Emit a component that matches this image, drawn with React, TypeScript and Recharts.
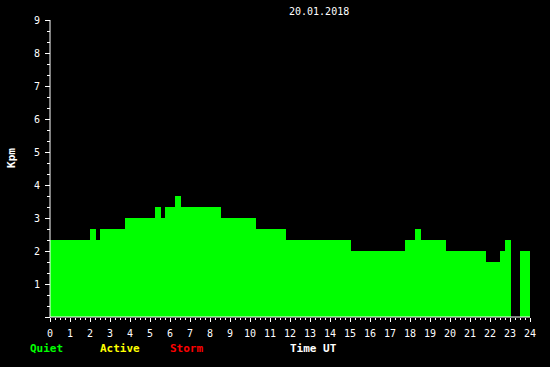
import React from 'react'
import { AreaChart, Area, XAxis, YAxis } from 'recharts'

// hours (UT) where the Kpm value changes, and the value that starts there
const hours = [0, 2.0, 2.3, 2.5, 3.75, 5.25, 5.55, 5.75, 6.25, 6.55, 8.55, 10.3, 11.8, 15.05, 17.75, 18.25, 18.55, 19.8, 21.8, 22.5, 22.75, 23.05, 23.05, 23.5, 24]
const kpm = [2.33, 2.67, 2.33, 2.67, 3, 3.33, 3, 3.33, 3.67, 3.33, 3, 2.67, 2.33, 2, 2.33, 2.67, 2.33, 2, 1.67, 2, 2.33, 2.33, null, 2, 2]

const title = '20.01.2018'
const legendItems = [
  { label: 'Quiet', color: '#00ff00', x: 30 },
  { label: 'Active', color: '#ffff00', x: 100 },
  { label: 'Storm', color: '#ff0000', x: 170 },
]
const xTitle = 'Time UT'
const yTitle = 'Kpm'

const hourTicks = Array.from({ length: 97 }, (_, i) => i / 4)
const kpmTicks = Array.from({ length: 28 }, (_, i) => i / 3)

const data = hours.map((t, i) => ({ t, kpm: kpm[i] }))

const FONT = '"DejaVu Sans Mono", monospace'

const isWhole = (v: number) => Math.abs(v - Math.round(v)) < 1e-6

const XTick = (props: any) => {
  const { x, y, payload } = props
  const major = isWhole(payload.value)
  return (
    <g>
      <line x1={x} x2={x} y1={y + 1} y2={y + (major ? 5 : 3)} stroke="#fff" strokeWidth={1} shapeRendering="crispEdges" />
      {major && (
        <text x={x} y={y + 20} textAnchor="middle" fill="#fff" fontSize={10} fontFamily={FONT}>
          {Math.round(payload.value)}
        </text>
      )}
    </g>
  )
}

const YTick = (props: any) => {
  const { x, y, payload } = props
  const major = isWhole(payload.value)
  const v = Math.round(payload.value)
  return (
    <g>
      <line x1={x - (major ? 5 : 3)} x2={x} y1={y} y2={y} stroke="#fff" strokeWidth={1} shapeRendering="crispEdges" />
      {major && v > 0 && (
        <text x={x - 10} y={y + 4} textAnchor="end" fill="#fff" fontSize={10} fontFamily={FONT}>
          {v}
        </text>
      )}
    </g>
  )
}

export default function App() {
  return (
    <div style={{ position: 'fixed', left: 0, top: 0, width: 550, height: 367, background: '#000', fontFamily: FONT }}>
      <AreaChart width={550} height={367} data={data} margin={{ top: 20, right: 20, bottom: 20, left: 0 }}>
        <XAxis
          type="number"
          dataKey="t"
          domain={[0, 24]}
          ticks={hourTicks}
          interval={0}
          height={30}
          tickSize={0}
          tickMargin={0}
          tickLine={false}
          axisLine={{ stroke: '#fff' }}
          tick={<XTick />}
        />
        <YAxis
          type="number"
          domain={[0, 9]}
          ticks={kpmTicks}
          interval={0}
          width={50}
          tickSize={0}
          tickMargin={0}
          tickLine={false}
          axisLine={{ stroke: '#fff' }}
          tick={<YTick />}
        />
        <Area
          type="stepAfter"
          dataKey="kpm"
          stroke="none"
          fill="#00ff00"
          fillOpacity={1}
          connectNulls={false}
          dot={false}
          activeDot={false}
          isAnimationActive={false}
        />
      </AreaChart>
      <div style={{ position: 'absolute', left: 289, top: 5, color: '#fff', fontSize: 10, lineHeight: '14px' }}>{title}</div>
      <div style={{
        position: 'absolute', left: 12, top: 158, color: '#fff', fontSize: 11, fontWeight: 'bold',
        transform: 'translate(-50%, -50%) rotate(-90deg)', lineHeight: '14px',
      }}>{yTitle}</div>
      {legendItems.map((item) => (
        <div key={item.label} style={{ position: 'absolute', left: item.x, top: 342, color: item.color, fontSize: 11, fontWeight: 'bold', lineHeight: '14px' }}>
          {item.label}
        </div>
      ))}
      <div style={{ position: 'absolute', left: 290, top: 342, color: '#fff', fontSize: 11, fontWeight: 'bold', lineHeight: '14px' }}>{xTitle}</div>
    </div>
  )
}
